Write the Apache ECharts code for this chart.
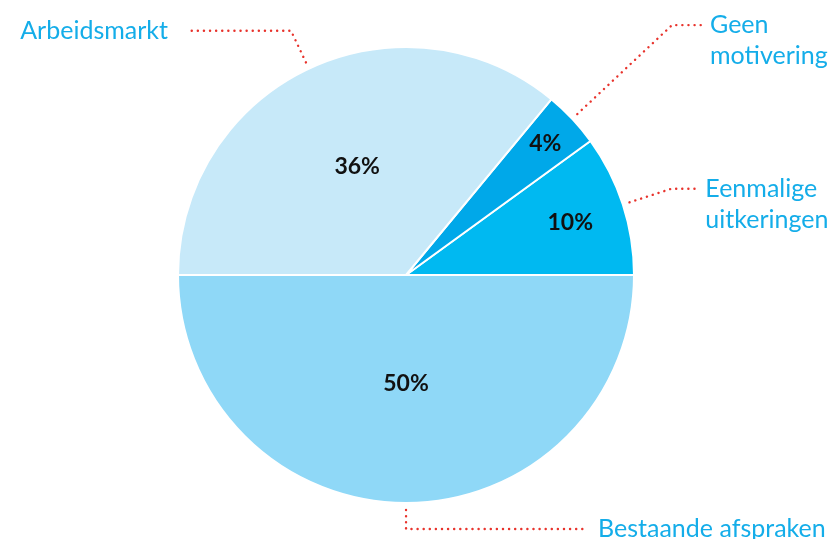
<!DOCTYPE html>
<html>
<head>
<meta charset="utf-8">
<script src="https://cdn.jsdelivr.net/npm/echarts@6/dist/echarts.min.js"></script>
<style>html,body{margin:0;padding:0;background:#fff}#c{width:829px;height:539px}</style>
</head>
<body>
<div id="c"></div>
<script>
const categories = ['Eenmalige\nuitkeringen', 'Geen\nmotivering', 'Arbeidsmarkt', 'Bestaande afspraken'];
const values = [10, 4, 36, 50];
const colors = ['#00b9f1', '#00a8e9', '#c7e9f9', '#8fd8f7'];

const FONT = 'Lato';
const labelColor = '#14ade9';
const lineStyle = { color: '#e8332c', width: 2.4, type: [0.1, 6], cap: 'round' };
// per-item label-line geometry (style only)
const lineGeom = [
  { length: 44, length2: 24, dist: 10 },
  { length: 130, length2: 30, dist: 8 },
  { length: 35, length2: 104, dist: 19 },
  { length: 19, length2: 182, dist: 10 }
];
const innerShift = [[53, -16], [54, -51], [1, -3], [0, -8]];

const chart = echarts.init(document.getElementById('c'), null, { renderer: 'canvas' });

const box = { left: -200, top: -200, width: 1229, height: 939 };
const center = [606, 475];
const START = 0.01;

chart.setOption({
  animation: false,
  series: [
    {
      type: 'pie',
      ...box,
      center: center,
      radius: 228,
      startAngle: START,
      clockwise: false,
      silent: true,
      avoidLabelOverlap: false,
      itemStyle: { borderColor: '#fff', borderWidth: 2 },
      label: {
        show: true, position: 'inside', formatter: '{c}%',
        color: '#111', fontFamily: FONT, fontWeight: 'bold', fontSize: 23
      },
      labelLayout: function (p) {
        const s = innerShift[p.dataIndex];
        return { dx: s[0], dy: s[1] };
      },
      labelLine: { show: false },
      data: categories.map((n, i) => ({ name: n, value: values[i], itemStyle: { color: colors[i] } }))
    },
    {
      type: 'pie',
      ...box,
      center: center,
      radius: 235,
      startAngle: START,
      clockwise: false,
      silent: true,
      avoidLabelOverlap: false,
      itemStyle: { color: 'rgba(0,0,0,0)', borderWidth: 0 },
      label: {
        show: true, position: 'outside',
        // first text line sits on the leader line
        formatter: function (p) { return p.name.indexOf('\n') >= 0 ? '\n' + p.name : p.name; },
        color: labelColor, fontFamily: FONT, fontSize: 25, lineHeight: 31
      },
      labelLine: { show: true, smooth: false, lineStyle: lineStyle },
      data: categories.map((n, i) => ({
        name: n, value: values[i],
        label: { distanceToLabelLine: lineGeom[i].dist },
        labelLine: { length: lineGeom[i].length, length2: lineGeom[i].length2 }
      }))
    }
  ]
});
</script>
</body>
</html>
